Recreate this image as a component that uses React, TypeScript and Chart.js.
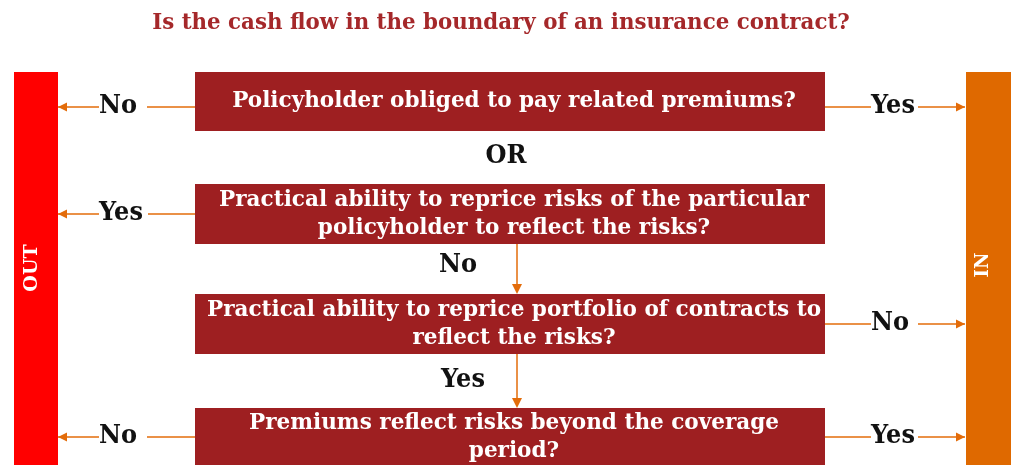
import React, { useEffect, useRef } from "react";
import { Chart, registerables } from "chart.js";
Chart.register(...registerables);

// ---- content ----
const titleText = "Is the cash flow in the boundary of an insurance contract?";
const questions: string[][] = [
  ["Policyholder obliged to pay related premiums?"],
  ["Practical ability to reprice risks of the particular", "policyholder to reflect the risks?"],
  ["Practical ability to reprice portfolio of contracts to", "reflect the risks?"],
  ["Premiums reflect risks beyond the coverage", "period?"],
];
const outAnswers = ["No", "Yes", "", "No"];
const inAnswers = ["Yes", "", "No", "Yes"];
const betweenLabels = ["OR", "No", "Yes"];
const betweenArrows = [false, true, true];
const outLabel = "OUT";
const inLabel = "IN";

// ---- layout (chart units) ----
const W = 1011;
const H = 465;
const boxX: [number, number] = [195, 825];
const boxY: [number, number][] = [
  [72, 131],
  [184, 244],
  [294, 354],
  [408, 466],
];
const connY = [107, 214, 324, 437];
const outBar = [14, 58, 72, 470];
const inBar = [966, 1015, 72, 470];
const textCx = 514;
const lineH = 28;
const betweenPos = [
  [506, 156],
  [458, 265],
  [463, 380],
];
const arrowX = 517;

const COLORS = {
  title: "#A5282A",
  box: "#9E1F21",
  out: "#FF0000",
  inn: "#DF6900",
  arrow: "#E36C0A",
  label: "#111111",
};
const FAMILY = '"DejaVu Serif", serif';
const VSTRETCH = 1.06;

function fitSize(ctx: CanvasRenderingContext2D, text: string, target: number) {
  ctx.font = `bold 100px ${FAMILY}`;
  const w = ctx.measureText(text).width;
  return (100 * target) / w;
}

const flowPlugin = {
  id: "flow",
  afterDraw(chart: any) {
    const ctx: CanvasRenderingContext2D = chart.ctx;
    const sx = (v: number) => chart.scales.x.getPixelForValue(v);
    const sy = (v: number) => chart.scales.y.getPixelForValue(v);
    ctx.save();

    const titleSize = fitSize(ctx, titleText, 698);
    const boxSize = fitSize(ctx, questions[0][0], 564);
    const labSize = fitSize(ctx, "Yes", 44);

    const text = (t: string, x: number, y: number, size: number, color: string, align: CanvasTextAlign) => {
      ctx.save();
      ctx.translate(sx(x), sy(y));
      ctx.scale(1, VSTRETCH);
      ctx.fillStyle = color;
      ctx.font = `bold ${size}px ${FAMILY}`;
      ctx.textAlign = align;
      ctx.textBaseline = "middle";
      ctx.fillText(t, 0, 0);
      const w = ctx.measureText(t).width;
      ctx.restore();
      return w;
    };

    // title
    text(titleText, 501, 23, titleSize, COLORS.title, "center");

    // side bars
    const rect = (r: number[], c: string) => {
      ctx.fillStyle = c;
      const x0 = sx(r[0]), x1 = sx(r[1]), y0 = sy(r[2]), y1 = sy(r[3]);
      ctx.fillRect(x0, y0, x1 - x0, y1 - y0);
    };
    rect(outBar, COLORS.out);
    rect(inBar, COLORS.inn);

    const vtext = (t: string, cx: number, cy: number, size: number) => {
      ctx.save();
      ctx.translate(sx(cx), sy(cy));
      ctx.rotate(-Math.PI / 2);
      ctx.fillStyle = "#ffffff";
      ctx.font = `bold ${size}px ${FAMILY}`;
      ctx.textAlign = "center";
      ctx.textBaseline = "middle";
      ctx.fillText(t, 0, 0);
      ctx.restore();
    };
    vtext(outLabel, 32, 268, 19);
    vtext(inLabel, 983, 265, 18);

    // boxes
    questions.forEach((lines, i) => {
      rect([boxX[0], boxX[1], boxY[i][0], boxY[i][1]], COLORS.box);
      const cy = (boxY[i][0] + boxY[i][1]) / 2;
      lines.forEach((ln, j) => {
        const y = cy + (j - (lines.length - 1) / 2) * lineH;
        text(ln, textCx, y, boxSize, "#ffffff", "center");
      });
    });

    // connectors
    const line = (x0: number, y0: number, x1: number, y1: number) => {
      ctx.strokeStyle = COLORS.arrow;
      ctx.lineWidth = 1.5;
      ctx.beginPath();
      ctx.moveTo(sx(x0), sy(y0));
      ctx.lineTo(sx(x1), sy(y1));
      ctx.stroke();
    };
    const head = (x: number, y: number, dir: "l" | "r" | "d") => {
      const X = sx(x), Y = sy(y);
      ctx.fillStyle = COLORS.arrow;
      ctx.beginPath();
      if (dir === "l") {
        ctx.moveTo(X, Y);
        ctx.lineTo(X + 9, Y - 4.5);
        ctx.lineTo(X + 9, Y + 4.5);
      } else if (dir === "r") {
        ctx.moveTo(X, Y);
        ctx.lineTo(X - 9, Y - 4.5);
        ctx.lineTo(X - 9, Y + 4.5);
      } else {
        ctx.moveTo(X, Y);
        ctx.lineTo(X - 5, Y - 10);
        ctx.lineTo(X + 5, Y - 10);
      }
      ctx.closePath();
      ctx.fill();
    };

    outAnswers.forEach((a, i) => {
      if (!a) return;
      const y = connY[i];
      const w = text(a, 99, y - 1, labSize, COLORS.label, "left");
      line(58, y, 99, y);
      head(58, y, "l");
      line(Math.max(99 + w + 5, 147), y, boxX[0], y);
    });
    inAnswers.forEach((a, i) => {
      if (!a) return;
      const y = connY[i];
      const w = text(a, 871, y - 1, labSize, COLORS.label, "left");
      line(boxX[1], y, 871, y);
      line(Math.max(871 + w + 2, 918), y, 965, y);
      head(965, y, "r");
    });

    betweenLabels.forEach((t, i) => {
      text(t, betweenPos[i][0], betweenPos[i][1], labSize, COLORS.label, "center");
      if (betweenArrows[i]) {
        const y0 = boxY[i][1];
        const y1 = boxY[i + 1][0];
        line(arrowX, y0, arrowX, y1 - 2);
        head(arrowX, y1, "d");
      }
    });

    ctx.restore();
  },
};

export default function App() {
  const ref = useRef<HTMLCanvasElement | null>(null);
  useEffect(() => {
    if (!ref.current) return;
    const chart = new Chart(ref.current, {
      type: "scatter",
      data: { datasets: [{ data: [], pointRadius: 0 }] },
      options: {
        animation: false,
        responsive: false,
        maintainAspectRatio: false,
        layout: { padding: 0 },
        plugins: { legend: { display: false }, tooltip: { enabled: false }, title: { display: false } },
        scales: {
          x: { type: "linear", min: 0, max: W, display: false },
          y: { type: "linear", min: 0, max: H, reverse: true, display: false },
        },
        events: [],
      },
      plugins: [flowPlugin],
    });
    return () => chart.destroy();
  }, []);
  return (
    <div style={{ position: "absolute", left: 0, top: 0, width: W, height: H, background: "#fff" }}>
      <canvas ref={ref} width={W} height={H} style={{ width: W, height: H, display: "block" }} />
    </div>
  );
}
